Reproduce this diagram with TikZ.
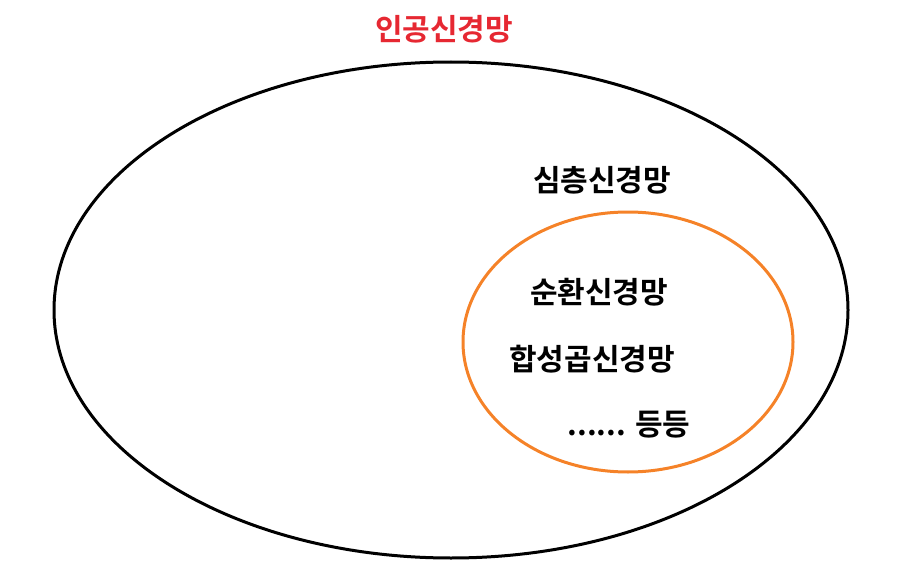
\documentclass[tikz,border=0pt]{standalone}
\usepackage{fontspec}
\setmainfont{Noto Sans CJK KR}[BoldFont={Noto Sans CJK KR Bold}]
\usepackage{xcolor}
\definecolor{titlered}{RGB}{230,40,50}
\definecolor{deeporange}{RGB}{245,130,40}
\begin{document}
\begin{tikzpicture}[x=1pt, y=-1pt, every node/.style={font=\bfseries\fontsize{30}{34}\selectfont}]
   % Canvas
   \useasboundingbox (0,0) rectangle (898,578);
    % Sets
    \draw[line width=3pt, black] (451,310) ellipse [x radius=397, y radius=248];
    \draw[line width=3pt, deeporange] (628,342) ellipse [x radius=165, y radius=130];
    % Labels
    \node[titlered] (ann) at (444,29) {인공신경망};
    \node (dnn) at (602,180) {심층신경망};
    \node (rnn) at (599,292) {순환신경망};
    \node (cnn) at (592,359) {합성곱신경망};
    \node (etc) at (629,425) {...... 등등};
\end{tikzpicture}
\end{document}
